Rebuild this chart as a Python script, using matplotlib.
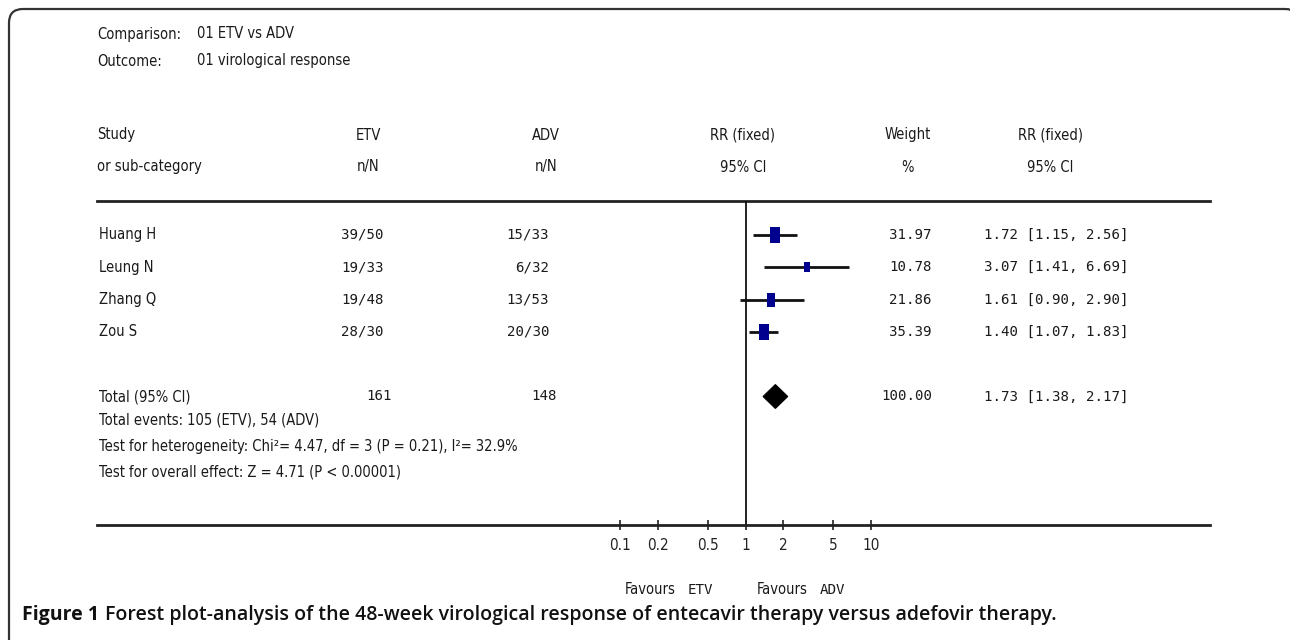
import matplotlib
matplotlib.use("Agg")
import matplotlib.pyplot as plt
from matplotlib import font_manager
from matplotlib.transforms import blended_transform_factory
from matplotlib.patches import FancyBboxPatch, Polygon
from matplotlib.lines import Line2D

# ---------------- data ----------------
studies = ["Huang H", "Leung N", "Zhang Q", "Zou S"]
etv_nN = ["39/50", "19/33", "19/48", "28/30"]
adv_nN = ["15/33", "6/32", "13/53", "20/30"]
rr = [1.72, 3.07, 1.61, 1.40]
ci_lo = [1.15, 1.41, 0.90, 1.07]
ci_hi = [2.56, 6.69, 2.90, 1.83]
weights = [31.97, 10.78, 21.86, 35.39]
total_etv = "161"
total_adv = "148"
total_rr = 1.73
total_lo = 1.38
total_hi = 2.17
total_weight = 100.00
tick_values = [0.1, 0.2, 0.5, 1, 2, 5, 10]
tick_labels = ["0.1", "0.2", "0.5", "1", "2", "5", "10"]

# ---------------- fonts ----------------
avail = {f.name for f in font_manager.fontManager.ttflist}
NARROW = "Liberation Sans Narrow" if "Liberation Sans Narrow" in avail else "DejaVu Sans"
NARROW_STRETCH = "normal" if NARROW == "Liberation Sans Narrow" else "condensed"
MONO = "DejaVu Sans Mono" if "DejaVu Sans Mono" in avail else "Liberation Mono"
CAP = "Open Sans" if "Open Sans" in avail else "DejaVu Sans"

SANS_SIZE = 10.5
MONO_SIZE = 10.2
TXT = "#1a1a1a"

W, H = 1290, 640
fig = plt.figure(figsize=(W / 100, H / 100), dpi=100)
fig.patch.set_facecolor("white")

# background axes in pixel coordinates
bg = fig.add_axes([0, 0, 1, 1])
bg.set_xlim(0, W)
bg.set_ylim(H, 0)
bg.axis("off")
bg.set_zorder(0)

# rounded frame
frame = FancyBboxPatch((9, 9), 1290, 700, boxstyle="round,pad=0,rounding_size=14",
                       fill=False, edgecolor="#333333", linewidth=1.6,
                       transform=bg.transData, clip_on=True)
bg.add_patch(frame)

# forest plot axes (log scale)
x0, x1 = 620, 871
ytop, ybot = 201, 525
ax = fig.add_axes([x0 / W, 1 - ybot / H, (x1 - x0) / W, (ybot - ytop) / H])
ax.set_zorder(1)
ax.patch.set_alpha(0)
ax.set_xscale("log")
ax.set_xlim(0.1, 10)
row_h = 32.3
first_row_px = 235
ax.set_ylim((ybot - first_row_px) / row_h, (ytop - first_row_px) / row_h)
for s in ax.spines.values():
    s.set_visible(False)
ax.set_xticks(tick_values)
ax.set_xticklabels(tick_labels)
ax.xaxis.set_minor_locator(matplotlib.ticker.NullLocator())
ax.set_yticks([])
ax.tick_params(axis="x", direction="inout", length=7, width=1.2, pad=6,
               labelsize=11, colors="#222222")
for lab in ax.get_xticklabels():
    lab.set_family(NARROW)
    lab.set_stretch(NARROW_STRETCH)

ax.axvline(1, color="#111111", lw=1.3, zorder=1)

rows = list(range(len(studies)))
total_row = len(studies) + 1

# rectangle marker (taller than wide)
rect_marker = [(-0.3, -0.5), (0.3, -0.5), (0.3, 0.5), (-0.3, 0.5), (-0.3, -0.5)]
for i in rows:
    ax.plot([ci_lo[i], ci_hi[i]], [i, i], color="#111111", lw=2.0, solid_capstyle="butt", zorder=2)
    h_px = 4 + 2.1 * weights[i] ** 0.5
    ax.plot([rr[i]], [i], marker=rect_marker, markersize=h_px * 72 / 100,
            color="#00008f", markeredgewidth=0, zorder=3, linestyle="none")

dh = 0.37
ax.add_patch(Polygon([(total_lo, total_row), (total_rr, total_row - dh),
                      (total_hi, total_row), (total_rr, total_row + dh)],
                     closed=True, facecolor="black", edgecolor="black", lw=0.8, zorder=3))

# horizontal rules
bg.add_line(Line2D([97, 1210], [201, 201], color="#222222", lw=2.0))
bg.add_line(Line2D([97, 1210], [525, 525], color="#222222", lw=2.0))

def sans(x, y, s, ha="left", transform=None, **kw):
    bg.text(x, y, s, ha=ha, va="center", family=NARROW, stretch=NARROW_STRETCH,
            fontsize=SANS_SIZE, color=TXT, transform=transform or bg.transData, **kw)

def mono(x, y, s, ha="left", transform=None, **kw):
    bg.text(x, y, s, ha=ha, va="center", family=MONO, fontsize=MONO_SIZE,
            color=TXT, transform=transform or bg.transData, **kw)

# top info
sans(97, 34, "Comparison:")
sans(197, 34, "01 ETV vs ADV")
sans(97, 61, "Outcome:")
sans(197, 61, "01 virological response")

# column headers
sans(97, 135, "Study")
sans(97, 167, "or sub-category")
for xc, a, b in [(368, "ETV", "n/N"), (546, "ADV", "n/N"), (743, "RR (fixed)", "95% CI"),
                 (908, "Weight", "%"), (1050, "RR (fixed)", "95% CI")]:
    sans(xc, 135, a, ha="center")
    sans(xc, 167, b, ha="center")

# study rows
tr = blended_transform_factory(bg.transData, ax.transData)
for i in rows:
    sans(99, i, studies[i], transform=tr)
    mono(384, i, etv_nN[i], ha="right", transform=tr)
    mono(549, i, adv_nN[i], ha="right", transform=tr)
    mono(932, i, f"{weights[i]:.2f}", ha="right", transform=tr)
    mono(984, i, f"{rr[i]:.2f} [{ci_lo[i]:.2f}, {ci_hi[i]:.2f}]", transform=tr)

# total row
sans(99, total_row, "Total (95% CI)", transform=tr)
mono(392, total_row, total_etv, ha="right", transform=tr)
mono(557, total_row, total_adv, ha="right", transform=tr)
mono(932, total_row, f"{total_weight:.2f}", ha="right", transform=tr)
mono(984, total_row, f"{total_rr:.2f} [{total_lo:.2f}, {total_hi:.2f}]", transform=tr)

sans(99, 420, "Total events: 105 (ETV), 54 (ADV)")
sans(99, 446, "Test for heterogeneity: Chi²= 4.47, df = 3 (P = 0.21), I²= 32.9%")
sans(99, 472, "Test for overall effect: Z = 4.71 (P < 0.00001)")

# favours labels
sans(625, 590, "Favours")
mono(688, 590, "ETV")
sans(757, 590, "Favours")
mono(820, 590, "ADV")

# caption
CAP_SIZE = 14
cap1 = bg.text(22, 615, "Figure 1", ha="left", va="center", family=CAP,
               fontweight="bold", fontsize=CAP_SIZE, color="#111111")
fig.canvas.draw()
bb = cap1.get_window_extent()
cap_x = 22 + bb.width + 6
bg.text(cap_x, 615, "Forest plot-analysis of the 48-week virological response of entecavir therapy versus adefovir therapy.",
        ha="left", va="center", family=CAP, fontweight="semibold", fontsize=CAP_SIZE, color="#111111")

fig.savefig("out.png", dpi=100, facecolor="white")
